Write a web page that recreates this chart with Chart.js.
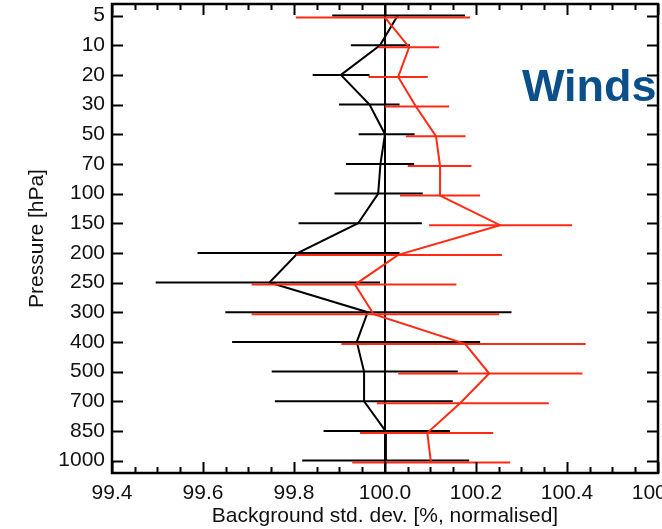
<!DOCTYPE html>
<html>
<head>
<meta charset="utf-8">
<script src="https://cdn.jsdelivr.net/npm/chart.js@4/dist/chart.umd.min.js"></script>
<style>
  html, body { margin: 0; padding: 0; background: #fff; }
  #wrap { width: 662px; height: 529px; }
</style>
</head>
<body>
<div id="wrap"><canvas id="grafico"></canvas></div>
<script>
/* Niveles de presion (eje vertical) */
var niveles = ['5', '10', '20', '30', '50', '70', '100', '150', '200', '250', '300', '400', '500', '700', '850', '1000'];

/* Serie negra: media y extremos de la barra */
var negroMedia = [100.028, 99.989, 99.903, 99.966, 100.0, 99.990, 99.985, 99.941, 99.809, 99.746, 99.962, 99.938, 99.954, 99.954, 100.001, 100.002];
var negroMin = [99.884, 99.925, 99.841, 99.899, 99.942, 99.914, 99.889, 99.810, 99.588, 99.496, 99.649, 99.664, 99.751, 99.758, 99.865, 99.818];
var negroMax = [100.176, 100.055, 99.966, 100.032, 100.065, 100.064, 100.083, 100.081, 100.032, 99.989, 100.278, 100.209, 100.160, 100.149, 100.143, 100.185];

/* Serie roja: media y extremos de la barra */
var rojoMedia = [100.0, 100.053, 100.029, 100.068, 100.112, 100.121, 100.121, 100.253, 100.029, 99.934, 99.975, 100.176, 100.229, 100.165, 100.093, 100.101];
var rojoMin = [99.804, 99.986, 99.964, 100.0, 100.046, 100.050, 100.033, 100.097, 99.805, 99.707, 99.707, 99.904, 100.029, 99.982, 99.945, 99.928];
var rojoMax = [100.187, 100.119, 100.094, 100.141, 100.177, 100.190, 100.209, 100.411, 100.257, 100.157, 100.251, 100.441, 100.434, 100.360, 100.238, 100.275];

/* Eje horizontal */
var xMin = 99.4, xMax = 100.6, xPaso = 0.2, xPasoMenor = 0.05;

var ROJO = '#ff2a14';
var NEGRO = '#000000';
var fuente = "'Liberation Sans', Arial, Helvetica, sans-serif";

function puntos(media) {
    return media.map(function (v, i) { return { x: v, y: i }; });
}

/* Barras horizontales de error; la serie roja va un poco desplazada hacia abajo */
var barras = {
    id: 'barras',
    beforeDatasetsDraw: function (chart) {
        var ctx = chart.ctx, a = chart.chartArea, x = chart.scales.x;
        ctx.save();
        ctx.strokeStyle = NEGRO;
        ctx.lineWidth = 2;
        ctx.beginPath();
        ctx.moveTo(x.getPixelForValue(100), a.top);
        ctx.lineTo(x.getPixelForValue(100), a.bottom);
        ctx.stroke();
        ctx.restore();
    },
    beforeDatasetDraw: function (chart, args) {
        var ds = chart.data.datasets[args.index];
        var ctx = chart.ctx, x = chart.scales.x, y = chart.scales.y;
        ctx.save();
        ctx.translate(0, ds.desplazamiento || 0);
        ctx.strokeStyle = ds.borderColor;
        ctx.lineWidth = 2;
        ctx.lineCap = 'butt';
        ds.minimos.forEach(function (lo, i) {
            var py = y.getPixelForValue(i);
            ctx.beginPath();
            ctx.moveTo(x.getPixelForValue(lo), py);
            ctx.lineTo(x.getPixelForValue(ds.maximos[i]), py);
            ctx.stroke();
        });
    },
    afterDatasetDraw: function (chart) {
        chart.ctx.restore();
    },
    afterDraw: function (chart) {
        var ctx = chart.ctx, a = chart.chartArea, x = chart.scales.x, y = chart.scales.y;
        ctx.save();
        ctx.strokeStyle = NEGRO;
        ctx.lineWidth = 2;
        /* marcas hacia dentro */
        ctx.beginPath();
        for (var v = xMin; v <= xMax + 1e-6; v += xPasoMenor) {
            var mayor = Math.abs(v / xPaso - Math.round(v / xPaso)) < 1e-6;
            var largo = mayor ? 11 : 6;
            var px = Math.round(x.getPixelForValue(v)) + 0.5;
            ctx.moveTo(px, a.bottom); ctx.lineTo(px, a.bottom - largo);
            ctx.moveTo(px, a.top); ctx.lineTo(px, a.top + largo);
        }
        niveles.forEach(function (n, i) {
            var py = Math.round(y.getPixelForValue(i)) + 0.5;
            ctx.moveTo(a.left, py); ctx.lineTo(a.left + 11, py);
            ctx.moveTo(a.right, py); ctx.lineTo(a.right - 11, py);
        });
        ctx.stroke();
        /* marco */
        ctx.lineWidth = 2.5;
        ctx.strokeRect(a.left, a.top, a.right - a.left, a.bottom - a.top);
        /* rotulo */
        ctx.fillStyle = '#0b4f8a';
        ctx.font = 'bold 45px ' + fuente;
        ctx.textAlign = 'left';
        ctx.textBaseline = 'alphabetic';
        ctx.fillText('Winds', a.right - 136, a.top + 97);
        ctx.restore();
    }
};

var marco = document.getElementById('grafico').getContext('2d');

var grafico = new Chart(marco, {
    type: 'scatter',
    data: {
        datasets: [{
            label: 'rojo',
            data: puntos(rojoMedia),
            minimos: rojoMin,
            maximos: rojoMax,
            desplazamiento: 2,
            borderColor: ROJO,
            borderWidth: 2,
            showLine: true,
            pointRadius: 0,
            fill: false
        }, {
            label: 'negro',
            data: puntos(negroMedia),
            minimos: negroMin,
            maximos: negroMax,
            borderColor: NEGRO,
            borderWidth: 2,
            showLine: true,
            pointRadius: 0,
            fill: false
        }]
    },
    options: {
        responsive: true,
        maintainAspectRatio: false,
        animation: false,
        layout: { padding: { top: 4, right: 4, left: 0, bottom: 0 } },
        plugins: {
            legend: { display: false },
            tooltip: { enabled: false }
        },
        scales: {
            x: {
                type: 'linear',
                min: xMin,
                max: xMax,
                grid: { display: false, drawTicks: false },
                border: { display: false },
                ticks: {
                    stepSize: xPaso,
                    padding: 8,
                    color: '#111',
                    maxRotation: 0,
                    autoSkip: false,
                    font: { family: fuente, size: 21 },
                    callback: function (v) { return v.toFixed(1); }
                },
                title: {
                    display: true,
                    text: 'Background std. dev. [%, normalised]',
                    color: '#111',
                    font: { family: fuente, size: 21 },
                    padding: { top: 0, bottom: 0 }
                },
                afterFit: function (s) {
                    s.height = 56;
                    s.paddingLeft = 0;
                    s.paddingRight = 0;
                }
            },
            y: {
                type: 'linear',
                reverse: true,
                min: -0.39,
                max: niveles.length - 1 + 0.42,
                grid: { display: false, drawTicks: false },
                border: { display: false },
                afterBuildTicks: function (s) {
                    s.ticks = niveles.map(function (n, i) { return { value: i }; });
                },
                ticks: {
                    padding: 7,
                    color: '#111',
                    autoSkip: false,
                    font: { family: fuente, size: 21 },
                    callback: function (v) { return niveles[v]; }
                },
                title: {
                    display: true,
                    text: 'Pressure [hPa]',
                    color: '#111',
                    font: { family: fuente, size: 21 },
                    padding: { top: 25, bottom: 0 }
                },
                afterFit: function (s) {
                    s.width = 112;
                    s.paddingTop = 0;
                    s.paddingBottom = 0;
                }
            }
        }
    },
    plugins: [barras]
});
</script>
</body>
</html>
